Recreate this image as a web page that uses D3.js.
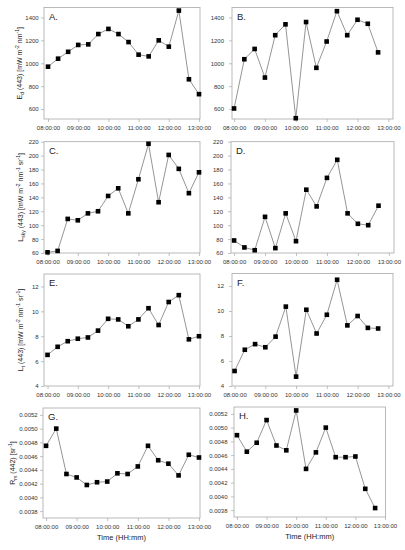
<!DOCTYPE html>
<html>
<head>
<meta charset="utf-8">
<script src="https://cdn.jsdelivr.net/npm/d3@7"></script>
<style>
  body { margin: 0; background: #fff; }
  text { font-family: "Liberation Sans", Arial, sans-serif; }
</style>
</head>
<body>
<svg id="chart" width="405" height="550"></svg>
<script>
// ---- data (20 min sampling) ----
const times = ["08:00","08:20","08:40","09:00","09:20","09:40","10:00","10:20",
               "10:40","11:00","11:20","11:40","12:00","12:20","12:40","13:00"];
const xTicks = ["08:00","09:00","10:00","11:00","12:00","13:00"];

// left column (16 samples) / right column (15 samples)
const edLeft   = [970, 1040, 1100, 1160, 1165, 1255, 1300, 1255, 1185, 1075, 1060, 1200, 1145, 1460, 860, 730];
const edRight  = [605, 1035, 1125, 875, 1245, 1340, 520, 1360, 960, 1190, 1455, 1245, 1380, 1345, 1095];
const lskyLeft  = [61, 63, 109, 107, 117, 120, 142, 153, 117, 166, 217, 133, 201, 181, 146, 176];
const lskyRight = [78, 68, 64, 112, 67, 117, 77, 151, 127, 168, 194, 117, 102, 100, 128];
const ltLeft   = [6.5, 7.15, 7.6, 7.8, 7.9, 8.45, 9.4, 9.35, 8.8, 9.35, 10.25, 8.9, 10.75, 11.3, 7.75, 8.0];
const ltRight  = [5.2, 6.9, 7.35, 7.1, 7.95, 10.35, 4.75, 10.1, 8.2, 9.7, 12.5, 8.85, 9.6, 8.65, 8.6];
const rrsLeft  = [0.00475, 0.00500, 0.00434, 0.00429, 0.00418, 0.00422, 0.00423, 0.00435,
                  0.00434, 0.00445, 0.00475, 0.00454, 0.00449, 0.00432, 0.00462, 0.00458];
const rrsRight = [0.00489, 0.00465, 0.00478, 0.00511, 0.00474, 0.00467, 0.00525, 0.00440,
                  0.00464, 0.00500, 0.00457, 0.00457, 0.00458, 0.00411, 0.00383];

const edTicks   = [600, 800, 1000, 1200, 1400];
const lskyTicks = [60, 80, 100, 120, 140, 160, 180, 200, 220];
const ltTicks   = [4, 6, 8, 10, 12];
const rrsTicks  = [0.0038, 0.0040, 0.0042, 0.0044, 0.0046, 0.0048, 0.0050, 0.0052];

const parse = d3.timeParse("%H:%M");
const svg = d3.select("#chart");

// y-axis titles (with sub/superscripts)
const edTitle   = [["E"], ["d", "sub"], [" (443) [mW m"], ["-2", "sup"], [" nm"], ["-1", "sup"], ["]"]];
const lskyTitle = [["L"], ["sky", "sub"], [" (443) [mW m"], ["-2", "sup"], [" nm"], ["-1", "sup"], [" sr"], ["-1", "sup"], ["]"]];
const ltTitle   = [["L"], ["t", "sub"], [" (443) [mW m"], ["-2", "sup"], [" nm"], ["-1", "sup"], [" sr"], ["-1", "sup"], ["]"]];
const rrsTitle  = [["R"], ["rs", "sub"], [" (442) [sr"], ["-1", "sup"], ["]"]];

// panel layout
const panels = [
  { tag: "A.", vals: edLeft,    box: [44, 200, 7.5, 119], xd: ["07:52", "13:02"], yd: [513, 1487], yt: edTicks,   title: edTitle,   tx: 22 },
  { tag: "B.", vals: edRight,   box: [232, 393, 7.5, 119], xd: ["07:56", "13:09"], yd: [513, 1487], yt: edTicks, pad: 5 },
  { tag: "C.", vals: lskyLeft,  box: [44, 200, 141.7, 253], xd: ["07:53", "13:02"], yd: [60, 220], yt: lskyTicks, title: lskyTitle, tx: 23 },
  { tag: "D.", vals: lskyRight, box: [231, 394, 141.7, 253], xd: ["07:54", "13:10"], yd: [60, 220], yt: lskyTicks, pad: 5 },
  { tag: "E.", vals: ltLeft,    box: [44, 200, 274, 386], xd: ["07:53", "13:02"], yd: [4, 13], yt: ltTicks, title: ltTitle, tx: 23 },
  { tag: "F.", vals: ltRight,   box: [232, 393, 273.5, 386], xd: ["07:55", "13:09"], yd: [4, 13], yt: ltTicks, pad: 5 },
  { tag: "G.", vals: rrsLeft,   box: [43, 200, 408, 518], xd: ["07:54", "13:02"], yd: [0.0037, 0.0053], yt: rrsTicks, title: rrsTitle, tx: 15, fmt: ".4f", xlab: true },
  { tag: "H.", vals: rrsRight,  box: [234, 385.5, 407, 517], xd: ["07:54", "13:01"], yd: [0.0037, 0.0053], yt: rrsTicks, fmt: ".4f", xlab: true, pad: 3.5 }
];

panels.forEach(p => {
  const [x0, x1, y0, y1] = p.box;
  const x = d3.scaleTime().domain(p.xd.map(parse)).range([x0, x1]);
  const y = d3.scaleLinear().domain(p.yd).range([y1, y0]);
  const g = svg.append("g");

  // frame
  g.append("rect")
    .attr("x", x0).attr("y", y0)
    .attr("width", x1 - x0).attr("height", y1 - y0)
    .attr("fill", "none").attr("stroke", "#a8a8a8").attr("stroke-width", 0.8);

  // axes
  const xa = g.append("g").attr("transform", `translate(0,${y1})`)
    .call(d3.axisBottom(x).tickValues(xTicks.map(parse))
      .tickFormat(d3.timeFormat("%H:%M:%S")).tickSize(3).tickPadding(3.5));
  const ya = g.append("g").attr("transform", `translate(${x0},0)`)
    .call(d3.axisLeft(y).tickValues(p.yt)
      .tickFormat(p.fmt ? d3.format(p.fmt) : d3.format("d")).tickSize(3).tickPadding(p.pad || 2.3));
  [xa, ya].forEach(a => {
    a.select(".domain").remove();
    a.selectAll(".tick line").attr("stroke", "#a8a8a8").attr("stroke-width", 0.7);
    a.selectAll(".tick text").attr("fill", "#333").style("font-size", "6px");
  });

  // data line + markers
  const pts = p.vals.map((v, i) => [parse(times[i]), v]);
  g.append("path").datum(pts)
    .attr("fill", "none").attr("stroke", "#7a7a7a").attr("stroke-width", 0.8)
    .attr("d", d3.line().x(d => x(d[0])).y(d => y(d[1])));
  g.selectAll("rect.pt").data(pts).enter().append("rect")
    .attr("class", "pt")
    .attr("x", d => x(d[0]) - 2.3).attr("y", d => y(d[1]) - 2.3)
    .attr("width", 4.6).attr("height", 4.6)
    .attr("fill", "#000");

  // panel tag
  g.append("text")
    .attr("x", x0 + 5).attr("y", y0 + 12)
    .style("font-size", "9.5px").attr("fill", "#222")
    .text(p.tag);

  // y title
  if (p.title) {
    const t = g.append("text")
      .attr("transform", `translate(${p.tx},${(y0 + y1) / 2}) rotate(-90)`)
      .attr("text-anchor", "middle")
      .style("font-size", "7px").attr("fill", "#222");
    let shift = 0;
    p.title.forEach(([s, kind]) => {
      const want = kind === "sub" ? 1.6 : kind === "sup" ? -2.6 : 0;
      t.append("tspan")
        .attr("dy", want - shift)
        .style("font-size", kind ? "5px" : null)
        .text(s);
      shift = want;
    });
  }

  // x title
  if (p.xlab) {
    g.append("text")
      .attr("x", (x0 + x1) / 2).attr("y", y1 + 22)
      .attr("text-anchor", "middle")
      .style("font-size", "7.5px").attr("fill", "#222")
      .text("Time (HH:mm)");
  }
});
</script>
</body>
</html>
